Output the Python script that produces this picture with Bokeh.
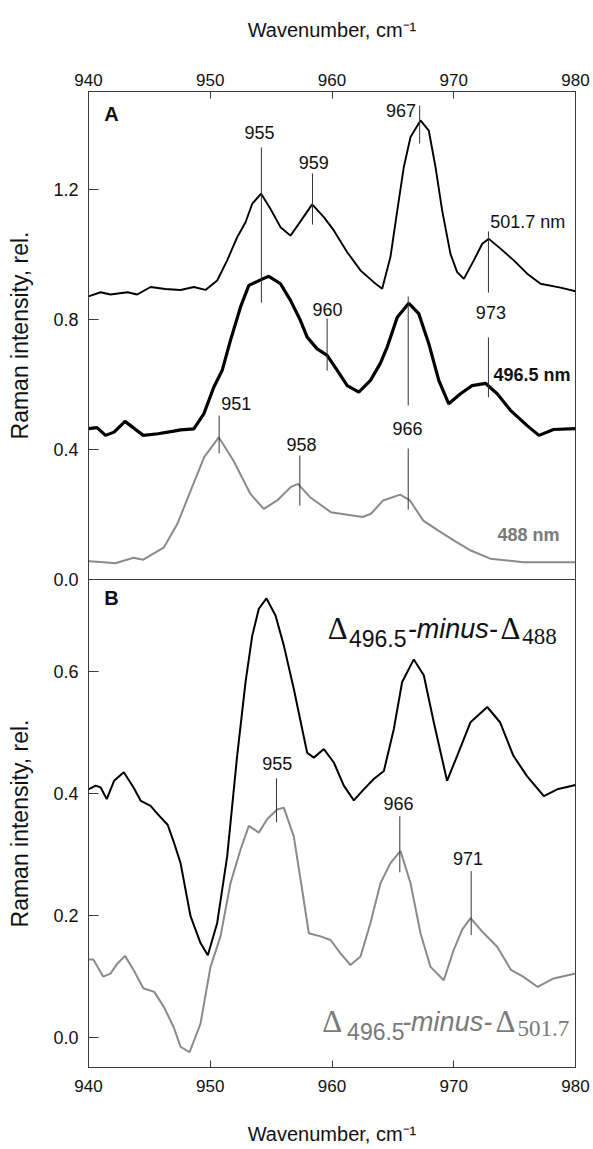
from bokeh.plotting import figure
from bokeh.layouts import column
from bokeh.models import Range1d, FixedTicker, PrintfTickFormatter, Label
from bokeh.embed import file_html
from bokeh.resources import INLINE

# ---------------- data ----------------
x_ticks = [940, 950, 960, 970, 980]
a_ticks = [0.0, 0.4, 0.8, 1.2]
b_ticks = [0.0, 0.2, 0.4, 0.6]
A_RANGE = (0.0, 1.5)
B_RANGE = (-0.05, 0.75)

# Panel A: 501.7 nm
a1_x = [940, 941, 941.8, 943.2, 944, 945.1, 946.3, 947.56, 948.65, 949.61, 950.57, 951.39, 952.21, 952.9,
        953.45, 954.18, 954.95, 955.77, 956.59, 957.27, 958.37, 959.33, 960.15, 961.25, 962.34, 963.43,
        964.12, 964.8, 965.36, 965.9, 966.45, 967.27, 967.95, 968.5, 969.05, 969.73, 970.28, 970.83,
        971.65, 972.34, 972.88, 973.84, 974.93, 976.03, 977.13, 978.77, 980]
a1_y = [0.870, 0.883, 0.876, 0.883, 0.876, 0.899, 0.893, 0.890, 0.899, 0.890, 0.919, 0.981, 1.052, 1.098,
        1.155, 1.186, 1.139, 1.083, 1.057, 1.093, 1.153, 1.114, 1.073, 1.006, 0.950, 0.914,
        0.894, 0.991, 1.134, 1.268, 1.360, 1.411, 1.380, 1.268, 1.134, 1.001, 0.945, 0.924,
        0.981, 1.032, 1.047, 1.017, 0.981, 0.940, 0.909, 0.897, 0.886]
# Panel A: 496.5 nm
a2_x = [940, 940.7, 941.4, 942.1, 943, 943.7, 944.5, 945.7, 947, 947.56, 948.65, 949.47, 950.29, 950.98,
        951.66, 952.48, 953.17, 954.13, 954.81, 955.77, 956.59, 957.41, 957.96, 958.78, 959.6, 960.43,
        961.25, 962.2, 963.16, 963.98, 964.53, 965.36, 966.31, 967.13, 967.95, 968.77, 969.59, 970.55,
        971.51, 972.6, 973.57, 974.66, 976.03, 977, 978.2, 980]
a2_y = [0.464, 0.467, 0.443, 0.453, 0.486, 0.466, 0.443, 0.448, 0.456, 0.460, 0.463, 0.509, 0.591, 0.643,
        0.735, 0.837, 0.904, 0.921, 0.932, 0.909, 0.858, 0.796, 0.745, 0.709, 0.689, 0.643,
        0.596, 0.576, 0.612, 0.665, 0.714, 0.806, 0.849, 0.817, 0.725, 0.612, 0.540, 0.571,
        0.596, 0.603, 0.571, 0.520, 0.473, 0.443, 0.461, 0.464]
# Panel A: 488 nm
a3_x = [940, 941, 942.2, 943.7, 944.5, 946.2, 947.3, 948.4, 949.5, 950.7, 951.9, 953.3, 954.4, 955.5,
        956.6, 957.2, 958.2, 959.9, 962.5, 963.2, 964.2, 965.6, 966.4, 967.5, 968.7, 970, 971.4, 973,
        975.7, 980]
a3_y = [0.056, 0.054, 0.050, 0.067, 0.061, 0.099, 0.171, 0.274, 0.376, 0.437, 0.366, 0.263, 0.217, 0.243,
        0.284, 0.294, 0.253, 0.207, 0.192, 0.202, 0.243, 0.261, 0.243, 0.181, 0.151, 0.120, 0.089, 0.064,
        0.053, 0.053]
# Panel B: D496.5 - D488
b1_x = [940, 940.6, 941, 941.5, 942.1, 942.9, 943.7, 944.3, 945.1, 945.7, 946.5, 947.0, 947.56, 948.38,
        949.2, 949.8, 950.57, 951.39, 952.21, 952.9, 953.45, 953.99, 954.62, 955.36, 956.04, 956.86,
        957.55, 957.96, 958.51, 959.33, 960.15, 960.97, 961.79, 962.61, 963.43, 964.26, 965.08, 965.76,
        966.72, 967.54, 968.36, 969.45, 970.28, 971.38, 972.75, 973.8, 974.9, 976, 977.4, 978.5, 980]
b1_y = [0.406, 0.412, 0.409, 0.390, 0.420, 0.434, 0.409, 0.387, 0.379, 0.365, 0.348, 0.320, 0.285, 0.198,
        0.154, 0.134, 0.187, 0.296, 0.461, 0.582, 0.658, 0.702, 0.719, 0.691, 0.642, 0.571,
        0.505, 0.466, 0.458, 0.472, 0.450, 0.412, 0.388, 0.406, 0.423, 0.436, 0.505, 0.582,
        0.619, 0.593, 0.516, 0.420, 0.461, 0.516, 0.541, 0.516, 0.461, 0.428, 0.395, 0.406, 0.413]
# Panel B: D496.5 - D501.7
b2_x = [940, 940.4, 941.2, 941.8, 942.4, 943, 943.7, 944.5, 945.4, 946.2, 947, 947.56, 948.3, 949.2,
        950.02, 950.84, 951.66, 952.48, 953.17, 953.99, 954.67, 955.49, 956.04, 956.86, 957.55, 958.1,
        959.06, 959.88, 960.7, 961.52, 962.34, 963.16, 963.98, 964.8, 965.63, 966.45, 967.27, 968.09,
        969.18, 970.0, 970.69, 971.38, 972.47, 973.57, 974.7, 975.7, 976.9, 978.2, 980]
b2_y = [0.127, 0.127, 0.099, 0.104, 0.121, 0.133, 0.110, 0.080, 0.074, 0.049, 0.016, -0.016, -0.025, 0.022,
        0.115, 0.165, 0.252, 0.307, 0.346, 0.335, 0.357, 0.373, 0.376, 0.329, 0.241, 0.170,
        0.165, 0.159, 0.137, 0.118, 0.132, 0.187, 0.252, 0.285, 0.305, 0.252, 0.170, 0.115,
        0.093, 0.143, 0.176, 0.195, 0.170, 0.148, 0.110, 0.099, 0.082, 0.096, 0.104]

# peak markers (x, y0, y1) and their labels
a_mark_x = [954.2, 958.4, 967.2, 972.85, 972.85, 959.6, 966.26, 966.26, 950.73, 957.36]
a_mark_y0 = [0.851, 1.091, 1.340, 0.882, 0.560, 0.642, 0.535, 0.215, 0.388, 0.227]
a_mark_y1 = [1.328, 1.248, 1.457, 1.070, 0.744, 0.802, 0.870, 0.403, 0.504, 0.381]
a_lab_text = ["955", "959", "967", "973", "960", "966", "951", "958"]
a_lab_x = [954.05, 958.5, 966.9, 973.05, 959.63, 966.2, 950.9, 957.5]
a_lab_y = [1.373, 1.282, 1.442, 0.821, 0.830, 0.464, 0.541, 0.415]
a_lab_align = ["center", "center", "right", "center", "center", "center", "left", "center"]

b_mark_x = [955.44, 965.57, 971.43]
b_mark_y0 = [0.352, 0.270, 0.167]
b_mark_y1 = [0.424, 0.362, 0.272]
b_lab_text = ["955", "966", "971"]
b_lab_x = [955.5, 965.46, 971.17]
b_lab_y = [0.449, 0.383, 0.292]

# ---------------- styling ----------------
SANS = "Liberation Sans"
SERIF = "Liberation Serif"
AX = "#3a3a3a"
TXT = "#111111"
GREY = "#8a8a8a"
LGREY = "#7a7a7a"
W = 590
FRAME_H = 488
OVERLAP = 12


def make_fig(yr, yticks, xloc, top, bottom):
    p = figure(width=W, height=top + FRAME_H + bottom,
               x_range=Range1d(940, 980), y_range=Range1d(*yr),
               x_axis_location=xloc, y_axis_location="left",
               output_backend="svg", toolbar_location=None,
               min_border_left=88, min_border_right=15,
               min_border_top=top, min_border_bottom=bottom,
               border_fill_color=None, background_fill_color=None)
    p.xgrid.visible = False
    p.ygrid.visible = False
    p.outline_line_color = AX
    p.outline_line_width = 1
    for ax in p.xaxis:
        ax.ticker = FixedTicker(ticks=x_ticks)
        ax.axis_label = "Wavenumber, cm\u207b\u00b9"
        ax.axis_label_text_font_size = "20px"
        ax.major_label_text_font_size = "17px"
        ax.major_tick_in = 7
    for ax in p.yaxis:
        ax.ticker = FixedTicker(ticks=yticks)
        ax.formatter = PrintfTickFormatter(format="%.1f")
        ax.axis_label = "Raman intensity, rel."
        ax.axis_label_text_font_size = "23px"
        ax.major_label_text_font_size = "18px"
        ax.major_tick_in = 10
        ax.major_label_standoff = 10
        ax.axis_label_standoff = 17
    for ax in p.xaxis + p.yaxis:
        ax.axis_label_text_font = SANS
        ax.axis_label_text_font_style = "normal"
        ax.axis_label_text_color = TXT
        ax.major_label_text_font = SANS
        ax.major_label_text_color = TXT
        ax.major_tick_out = 0
        ax.minor_tick_in = 0
        ax.minor_tick_out = 0
        ax.axis_line_color = AX
        ax.major_tick_line_color = AX
    return p


pA = make_fig(A_RANGE, a_ticks, "above", 91, OVERLAP)
pA.xaxis.major_label_standoff = 6
pA.xaxis.axis_label_standoff = 30

pB = make_fig(B_RANGE, b_ticks, "below", 0, 81)
pB.margin = (-OVERLAP, 0, 0, 0)
pB.xaxis.major_label_standoff = 12
pB.xaxis.axis_label_standoff = 28

# curves
pA.line(a1_x, a1_y, line_color="black", line_width=1.9)
pA.line(a2_x, a2_y, line_color="black", line_width=3.2)
pA.line(a3_x, a3_y, line_color=GREY, line_width=2)
pB.line(b1_x, b1_y, line_color="black", line_width=2)
pB.line(b2_x, b2_y, line_color=GREY, line_width=2)

# peak markers
pA.segment(x0=a_mark_x, y0=a_mark_y0, x1=a_mark_x, y1=a_mark_y1, line_color="#333333", line_width=1)
pB.segment(x0=b_mark_x, y0=b_mark_y0, x1=b_mark_x, y1=b_mark_y1, line_color="#333333", line_width=1)


def lab(p, x, y, text, size="18px", align="center", baseline="middle",
        style="normal", color=TXT, font=SANS):
    p.add_layout(Label(x=x, y=y, text=text, text_font=font, text_font_size=size,
                       text_font_style=style, text_color=color,
                       text_align=align, text_baseline=baseline))


for t, x, y, al in zip(a_lab_text, a_lab_x, a_lab_y, a_lab_align):
    lab(pA, x, y, t, align=al)
for t, x, y in zip(b_lab_text, b_lab_x, b_lab_y):
    lab(pB, x, y, t)

lab(pA, 973.0, 1.098, "501.7 nm", align="left")
lab(pA, 973.26, 0.630, "496.5 nm", align="left", style="bold")
lab(pA, 973.6, 0.138, "488 nm", align="left", style="bold", color=LGREY)
lab(pA, 941.3, 1.432, "A", align="left", style="bold", size="20px")
lab(pB, 941.3, 0.719, "B", align="left", style="bold", size="20px")

# difference-spectrum labels (Delta with subscripts)
lab(pB, 959.66, 0.6695, "\u0394", align="left", baseline="alphabetic", size="31px", font=SERIF)
lab(pB, 961.39, 0.653, "496.5", align="left", baseline="alphabetic", size="23px")
lab(pB, 966.23, 0.6695, "-minus-", align="left", baseline="alphabetic", size="27px", style="italic")
lab(pB, 973.84, 0.6695, "\u0394", align="left", baseline="alphabetic", size="31px", font=SERIF)
lab(pB, 975.62, 0.6563, "488", align="left", baseline="alphabetic", size="23px", font=SERIF)

lab(pB, 959.19, 0.0247, "\u0394", align="left", baseline="alphabetic", size="31px", font=SERIF, color=LGREY)
lab(pB, 961.24, 0.0082, "496.5", align="left", baseline="alphabetic", size="23px", color=LGREY)
lab(pB, 965.76, 0.0247, "-minus-", align="left", baseline="alphabetic", size="27px", style="italic", color=LGREY)
lab(pB, 973.43, 0.0247, "\u0394", align="left", baseline="alphabetic", size="31px", font=SERIF, color=LGREY)
lab(pB, 975.24, 0.0138, "501.7", align="left", baseline="alphabetic", size="23px", font=SERIF, color=LGREY)

layout = column(pA, pB, spacing=0)
open("out.html", "w").write(file_html(layout, INLINE))
